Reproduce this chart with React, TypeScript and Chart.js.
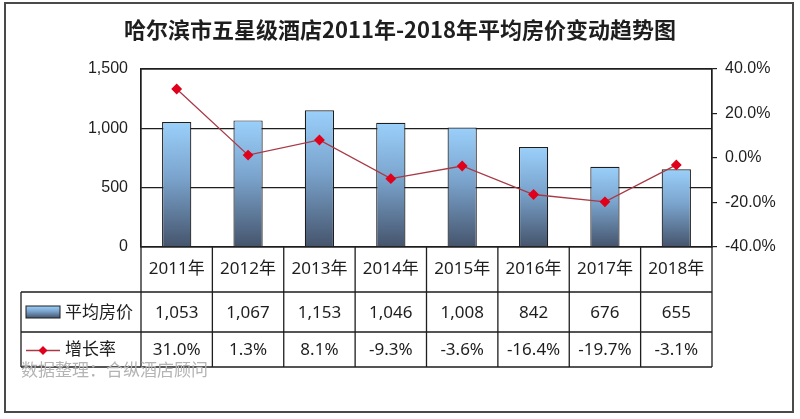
import React, { useEffect, useRef } from 'react';
import { Chart, registerables } from 'chart.js';

Chart.register(...registerables);

const years = ['2011年', '2012年', '2013年', '2014年', '2015年', '2016年', '2017年', '2018年'];
const avgPrice = [1053, 1067, 1153, 1046, 1008, 842, 676, 655];
const growthRate = [31.0, 1.3, 8.1, -9.3, -3.6, -16.4, -19.7, -3.1];
const priceTicks = [0, 500, 1000, 1500];
const rateTicks = [-40, -20, 0, 20, 40];

const TITLE = '哈尔滨市五星级酒店2011年-2018年平均房价变动趋势图';
const PRICE_LABEL = '平均房价';
const RATE_LABEL = '增长率';
const SOURCE = '数据整理：合纵酒店顾问';

const AXIS_FONT = "'Liberation Sans', Arial, sans-serif";
const TABLE_FONT = "'Noto Sans', 'Noto Sans CJK SC', sans-serif";
const INK = '#1e1e1e';
const LINE_RED = '#a83a46';
const MARK_RED = '#e0001b';

function barGradient(ctx: CanvasRenderingContext2D, top: number, bottom: number) {
  const g = ctx.createLinearGradient(0, top, 0, bottom);
  g.addColorStop(0, '#9ad0fb');
  g.addColorStop(0.45, '#7aa3cc');
  g.addColorStop(1, '#45546c');
  return g;
}

const fmtPrice = (v: number) => v.toLocaleString('en-US');
const fmtRate = (v: number) => v.toFixed(1) + '%';

// frame, data table, legend keys and source note
const tablePlugin = {
  id: 'dataTable',
  afterDraw(chart: any) {
    const { ctx, chartArea: a, scales } = chart;
    const x = scales.x;
    const colW = (a.right - a.left) / years.length;
    const r0 = a.bottom;
    const r1 = r0 + 45;
    const r2 = r1 + 40;
    const r3 = r2 + 35;
    const tl = 21;

    ctx.save();
    ctx.strokeStyle = INK;
    ctx.lineWidth = 1.3;
    ctx.strokeRect(a.left, a.top, a.right - a.left, a.bottom - a.top);

    ctx.beginPath();
    [r1, r2, r3].forEach((r) => {
      ctx.moveTo(tl, r);
      ctx.lineTo(a.right, r);
    });
    ctx.moveTo(tl, r1);
    ctx.lineTo(tl, r3);
    for (let i = 0; i <= years.length; i++) {
      const bx = a.left + i * colW;
      ctx.moveTo(bx, r0);
      ctx.lineTo(bx, r3);
    }
    ctx.stroke();

    ctx.fillStyle = INK;
    ctx.font = `17px ${TABLE_FONT}`;
    ctx.textAlign = 'center';
    ctx.textBaseline = 'middle';
    years.forEach((yr, i) => {
      const cx = x.getPixelForValue(i);
      ctx.fillText(yr, cx, (r0 + r1) / 2);
      ctx.fillText(fmtPrice(avgPrice[i]), cx, (r1 + r2) / 2 + 1);
      ctx.fillText(fmtRate(growthRate[i]), cx, (r2 + r3) / 2 + 1);
    });

    // legend keys
    const kx = 26;
    const kw = 34;
    const sy = (r1 + r2) / 2;
    ctx.fillStyle = barGradient(ctx, sy - 6, sy + 6);
    ctx.fillRect(kx, sy - 6, kw, 12);
    ctx.lineWidth = 1;
    ctx.strokeRect(kx, sy - 6, kw, 12);
    const ly = (r2 + r3) / 2 + 1;
    ctx.strokeStyle = LINE_RED;
    ctx.lineWidth = 1.3;
    ctx.beginPath();
    ctx.moveTo(kx, ly);
    ctx.lineTo(kx + kw, ly);
    ctx.stroke();
    ctx.fillStyle = MARK_RED;
    ctx.beginPath();
    ctx.moveTo(kx + kw / 2, ly - 4.5);
    ctx.lineTo(kx + kw / 2 + 4.5, ly);
    ctx.lineTo(kx + kw / 2, ly + 4.5);
    ctx.lineTo(kx + kw / 2 - 4.5, ly);
    ctx.closePath();
    ctx.fill();

    ctx.fillStyle = INK;
    ctx.textAlign = 'left';
    ctx.fillText(PRICE_LABEL, 65, sy + 1);
    ctx.fillText(RATE_LABEL, 65, ly);

    // source note
    ctx.fillStyle = '#b4b4b4';
    ctx.font = `17px ${TABLE_FONT}`;
    ctx.fillText(SOURCE, tl, 371);

    // outer frame
    ctx.strokeStyle = '#4a4a4a';
    ctx.lineWidth = 2;
    ctx.strokeRect(5, 3, 788, 409);
    ctx.restore();
  },
};

export default function App() {
  const canvasRef = useRef<HTMLCanvasElement | null>(null);

  useEffect(() => {
    const canvas = canvasRef.current;
    if (!canvas) return;
    const chart = new Chart(canvas, {
      type: 'bar',
      data: {
        labels: years,
        datasets: [
          {
            type: 'line',
            label: RATE_LABEL,
            data: growthRate,
            yAxisID: 'y1',
            order: 0,
            borderColor: LINE_RED,
            borderWidth: 1.3,
            pointStyle: 'rectRot',
            pointRadius: 4.5,
            pointBackgroundColor: MARK_RED,
            pointBorderColor: MARK_RED,
            tension: 0,
          } as any,
          {
            type: 'bar',
            label: PRICE_LABEL,
            data: avgPrice,
            yAxisID: 'y',
            order: 1,
            categoryPercentage: 1,
            barPercentage: 0.41,
            borderColor: INK,
            borderWidth: 1.2,
            backgroundColor: (c: any) => {
              const ch = c.chart;
              if (!ch.chartArea || c.type !== 'data') return '#7aa3cc';
              const ys = ch.scales.y;
              return barGradient(ch.ctx, ys.getPixelForValue(avgPrice[c.dataIndex]), ys.getPixelForValue(0));
            },
          },
        ],
      },
      options: {
        animation: false,
        responsive: true,
        maintainAspectRatio: false,
        layout: { padding: { top: 0, left: 0, right: 0, bottom: 172 } },
        plugins: {
          legend: { display: false },
          tooltip: { enabled: false },
          title: {
            display: true,
            text: TITLE,
            color: INK,
            font: { family: "'Noto Sans CJK SC', sans-serif", size: 22, weight: 'bold', lineHeight: 1.2 },
            padding: { top: 16, bottom: 26.6 },
          },
        },
        scales: {
          x: { display: false, offset: true },
          y: {
            position: 'left',
            min: priceTicks[0],
            max: priceTicks[priceTicks.length - 1],
            afterFit: (s: any) => { s.width = 141; },
            afterBuildTicks: (s: any) => { s.ticks = priceTicks.map((v) => ({ value: v })); },
            ticks: {
              padding: 13,
              color: INK,
              font: { family: AXIS_FONT, size: 16 },
              callback: (v: any) => fmtPrice(Number(v)),
            },
            grid: { color: INK, lineWidth: 1.2, drawTicks: false },
            border: { display: true, color: INK, width: 1.2 },
          },
          y1: {
            position: 'right',
            min: rateTicks[0],
            max: rateTicks[rateTicks.length - 1],
            afterFit: (s: any) => { s.width = 88; },
            afterBuildTicks: (s: any) => { s.ticks = rateTicks.map((v) => ({ value: v })); },
            ticks: {
              padding: 8,
              color: INK,
              font: { family: AXIS_FONT, size: 16 },
              callback: (v: any) => fmtRate(Number(v)),
            },
            grid: { drawOnChartArea: false, color: INK, tickLength: 5, lineWidth: 1.2 },
            border: { display: true, color: INK, width: 1.2 },
          },
        },
      },
      plugins: [tablePlugin],
    });
    return () => chart.destroy();
  }, []);

  return (
    <div style={{ position: 'fixed', left: 0, top: 0, width: 800, height: 419, background: '#fff' }}>
      <canvas ref={canvasRef} />
    </div>
  );
}
